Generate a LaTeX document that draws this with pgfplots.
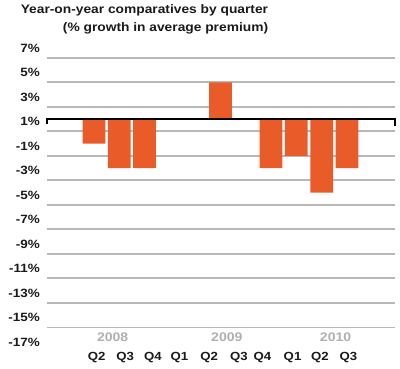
\documentclass[border=0pt]{standalone}
\usepackage{pgfplots}
\pgfplotsset{compat=1.18}
\usepackage{fontspec}
\setmainfont{Liberation Sans}
\newfontfamily\hf{Liberation Sans}[FakeStretch=1.12]
\definecolor{barc}{HTML}{EA5B2A}
\definecolor{gridc}{HTML}{B8B8B8}
\definecolor{yearc}{HTML}{B0B0B0}
\definecolor{txt}{HTML}{1A1A1A}
\begin{document}
\begin{tikzpicture}
\begin{axis}[
  at={(46.7pt,16pt)}, anchor=south west,
  scale only axis, width=348.3pt, height=312.6pt,
  xmin=-1.87, xmax=11.9, ymin=-19, ymax=6.5,
  axis line style={draw=none},
  major tick length=0pt, minor tick length=0pt,
  ytick={6,4,...,-18},
  yticklabels={7\%,5\%,3\%,1\%,-1\%,-3\%,-5\%,-7\%,-9\%,-11\%,-13\%,-15\%,-17\%},
  minor ytick={5,3,...,-17},
  yminorgrids=true,
  minor grid style={gridc, line width=1.9pt},
  xtick={0.11,1.23,2.33,3.38,4.55,5.73,6.66,7.85,8.93,10.06},
  xticklabels={Q2,Q3,Q4,Q1,Q2,Q3,Q4,Q1,Q2,Q3},
  /pgf/number format/assume math mode=true,
  yticklabel style={font=\hf\bfseries\fontsize{12}{14}\selectfont, text=txt, anchor=east, inner sep=0pt, xshift=-6.7pt, yshift=-2.5pt},
  xticklabel style={font=\hf\bfseries\fontsize{11.8}{14}\selectfont, text=txt, anchor=north, inner sep=0pt},
  ybar, bar width=0.9,
  clip=false,
]
\addplot[fill=barc, draw=none] coordinates {(0,-2) (1,-4) (2,-4) (3,0) (5,3) (6,0) (7,-4) (8,-3) (9,-6) (10,-4)};
\draw[black, line width=1.8pt] (axis cs:-1.87,-0.4) -- (axis cs:-1.87,0) -- (axis cs:11.9,0) -- (axis cs:11.9,-0.6);
\node[font=\hf\bfseries\fontsize{12.5}{14}\selectfont, text=yearc] at (axis cs:0.74,-17.76) {2008};
\node[font=\hf\bfseries\fontsize{12.5}{14}\selectfont, text=yearc] at (axis cs:5.25,-17.76) {2009};
\node[font=\hf\bfseries\fontsize{12.5}{14}\selectfont, text=yearc] at (axis cs:9.55,-17.76) {2010};
\end{axis}
\node[anchor=north east, align=right, inner sep=0pt, text=txt, font=\hf\bfseries\fontsize{12.3}{18}\selectfont] at (268.3pt,363.5pt) {Year-on-year comparatives by quarter\\(\% growth in average premium)};
\pgfresetboundingbox
\path[use as bounding box] (0,0) rectangle (400pt,368pt);
\end{tikzpicture}
\end{document}
